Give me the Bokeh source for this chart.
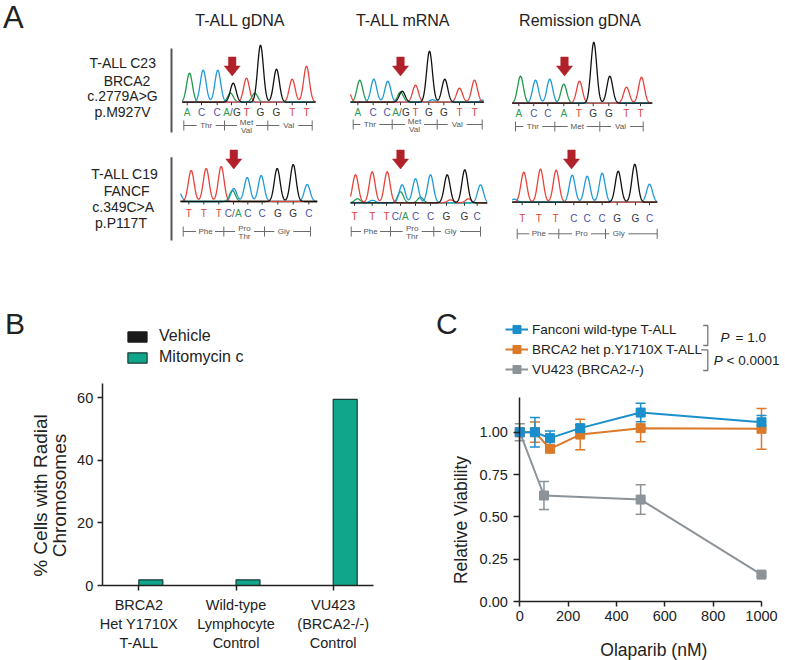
import numpy as np
from bokeh.plotting import figure
from bokeh.layouts import column, row
from bokeh.models import (Range1d, FixedTicker, NumeralTickFormatter, Label, Legend,
                          LegendItem, ColumnDataSource, Whisker, TeeHead)
from bokeh.core.properties import value
from bokeh.embed import file_html
from bokeh.resources import INLINE

FONT = "Liberation Sans"
INK = "#222222"

# ================= Panel A data : Sanger chromatograms =================
col_titles = ["T-ALL gDNA", "T-ALL mRNA", "Remission gDNA"]
row_labels_brca2 = ["T-ALL C23", "BRCA2", "c.2779A>G", "p.M927V"]
row_labels_fancf = ["T-ALL C19", "FANCF", "c.349C>A", "p.P117T"]

seq_brca2_tall = ["A", "C", "C", "A/G", "T", "G", "G", "T", "T"]
seq_brca2_rem = ["A", "C", "C", "A", "T", "G", "G", "T", "T"]
seq_fancf_tall = ["T", "T", "T", "C/A", "C", "C", "G", "G", "C"]
seq_fancf_rem = ["T", "T", "T", "C", "C", "C", "G", "G", "C"]

aa_brca2_tall = [["Thr"], ["Met", "Val"], ["Val"]]
aa_brca2_rem = [["Thr"], ["Met"], ["Val"]]
aa_fancf_tall = [["Phe"], ["Pro", "Thr"], ["Gly"]]
aa_fancf_rem = [["Phe"], ["Pro"], ["Gly"]]

# peak centre, peak height and base of each trace peak
c23_gdna_x = [189, 202.7, 217.3, 232.7, 230, 246, 260, 254.3, 276, 291.7, 306]
c23_gdna_h = [29, 32, 32, 19, 9, 24, 57, 9, 33, 23, 36]
c23_gdna_b = ["A", "C", "C", "G", "A", "T", "G", "A", "G", "T", "T"]

c23_mrna_x = [347, 359.3, 373.3, 387.3, 401.7, 400, 415, 429, 432, 444.3, 459, 474, 482]
c23_mrna_h = [13, 22, 23, 21, 11, 10, 17, 51, 2.5, 23, 14, 22, 2]
c23_mrna_b = ["T", "A", "C", "C", "G", "A", "T", "G", "C", "G", "T", "T", "C"]

c23_rem_x = [520, 535, 549.3, 563.3, 579, 593.3, 609.3, 626, 641]
c23_rem_h = [27, 23, 24, 19, 22, 61, 27, 16, 26]
c23_rem_b = ["A", "C", "C", "A", "T", "G", "G", "T", "T"]

c19_gdna_x = [178, 190.7, 205.7, 220.7, 233.3, 232, 246.7, 260.7, 276.7, 292.7, 306.7]
c19_gdna_h = [10, 31, 33, 35, 13, 11, 24, 26, 33, 37, 17]
c19_gdna_b = ["C", "T", "T", "T", "C", "A", "C", "C", "G", "G", "C"]

c19_mrna_x = [355, 357, 371.7, 372, 386.7, 401.7, 400, 415, 420, 430, 446.7, 450, 464.3, 468, 480]
c19_mrna_h = [28, 4, 31, 2.5, 31, 18, 11, 24, 5.5, 28, 28, 3, 33, 4, 18]
c19_mrna_b = ["T", "A", "T", "C", "T", "C", "A", "C", "A", "C", "G", "T", "G", "T", "C"]

c19_rem_x = [514, 523.3, 540, 555.7, 571.7, 586.7, 601.7, 617.7, 634.3, 649]
c19_rem_h = [3, 30, 33, 32, 27, 26, 29, 31, 38, 18]
c19_rem_b = ["C", "T", "T", "T", "C", "C", "C", "G", "G", "C"]

# ================= Panel B data =================
b_categories = ["BRCA2\nHet Y1710X\nT-ALL", "Wild-type\nLymphocyte\nControl",
                "VU423\n(BRCA2-/-)\nControl"]
b_vehicle = [0, 0, 0]
b_mitomycin = [1.8, 1.8, 59.5]
b_yticks = [0, 20, 40, 60]

# ================= Panel C data =================
c_dose = [0, 62.5, 125, 250, 500, 1000]
c_fanconi = [1.00, 1.00, 0.965, 1.024, 1.116, 1.059]
c_fanconi_err = [0.0, 0.087, 0.042, 0.02, 0.055, 0.04]
c_brca2 = [1.00, 1.00, 0.902, 0.986, 1.024, 1.02]
c_brca2_err = [0.0, 0.06, 0.015, 0.09, 0.08, 0.12]
c_vu_dose = [0, 100, 500, 1000]
c_vu = [1.00, 0.626, 0.602, 0.159]
c_vu_err = [0.05, 0.083, 0.087, 0.01]
c_xticks = [0, 200, 400, 600, 800, 1000]
c_yticks = [0, 0.25, 0.5, 0.75, 1.0]
c_labels = ["Fanconi wild-type T-ALL", "BRCA2 het p.Y1710X T-ALL", "VU423 (BRCA2-/-)"]

# ---------------------------------------------------------------------
BASE_COLOR = {"A": "#1f9a4c", "C": "#1e9ad6", "G": "#111111", "T": "#e5433b"}
LETTER_COLOR = {"A": "#2b9a52", "C": "#4c4fa6", "G": "#333333", "T": "#d8433c"}
SIGMA = 2.9


def txt(p, xs, ys, texts, size, color=INK, align="center", baseline="middle", style="normal"):
    p.text(x=xs, y=ys, text=texts, text_font=value(FONT), text_font_size=value(size),
           text_color=color, text_align=align, text_baseline=baseline,
           text_font_style=style)


pa = figure(width=785, height=296, x_range=Range1d(0, 785), y_range=Range1d(296, 0),
            x_axis_type=None, y_axis_type=None, toolbar_location=None,
            output_backend="svg", min_border=0, outline_line_color=None, title=None)

chroms = [
    dict(peaks=(c23_gdna_x, c23_gdna_h, c23_gdna_b), seq=seq_brca2_tall, aa=aa_brca2_tall,
         x0=181.7, x1=315, base=101.7,
         lx=[186.7, 201, 216.7, 231, 246, 260, 276, 291.7, 306], ly=111.7,
         aa_y=125, aa_x=[183.3, 224, 267.3, 311.7], aa_lx=[205.7, 246, 288.3], arrow=(231.7, 56.5)),
    dict(peaks=(c23_mrna_x, c23_mrna_h, c23_mrna_b), seq=seq_brca2_tall, aa=aa_brca2_tall,
         x0=350, x1=483.3, base=101.7,
         lx=[357.3, 372.7, 386.7, 400, 415, 428.3, 443.3, 459, 474], ly=111.7,
         aa_y=124, aa_x=[352.7, 391.7, 436.7, 481.7], aa_lx=[369.3, 414, 456.7], arrow=(400, 56.5)),
    dict(peaks=(c23_rem_x, c23_rem_h, c23_rem_b), seq=seq_brca2_rem, aa=aa_brca2_rem,
         x0=511.7, x1=651.7, base=102.7,
         lx=[518.3, 533.3, 547.3, 563.3, 578.3, 592.7, 608.3, 625.7, 640], ly=112.7,
         aa_y=126, aa_x=[515, 554.3, 599.3, 642.7], aa_lx=[532.3, 576.7, 620], arrow=(564, 56.5)),
    dict(peaks=(c19_gdna_x, c19_gdna_h, c19_gdna_b), seq=seq_fancf_tall, aa=aa_fancf_tall,
         x0=180, x1=316.7, base=201,
         lx=[188.3, 203.3, 218.3, 233, 247.3, 261.7, 277.3, 292.7, 308.3], ly=213.3,
         aa_y=231, aa_x=[182.7, 223.3, 264, 310], aa_lx=[205, 244, 283.3], arrow=(233.3, 149.5)),
    dict(peaks=(c19_mrna_x, c19_mrna_h, c19_mrna_b), seq=seq_fancf_tall, aa=aa_fancf_tall,
         x0=350, x1=486.7, base=202.3,
         lx=[354, 371.7, 386, 400, 415, 430, 446, 464, 476.7], ly=215.7,
         aa_y=231, aa_x=[350.7, 390, 433.3, 480], aa_lx=[370, 411.7, 450], arrow=(400, 149.5)),
    dict(peaks=(c19_rem_x, c19_rem_h, c19_rem_b), seq=seq_fancf_rem, aa=aa_fancf_rem,
         x0=511.7, x1=656.7, base=201.7,
         lx=[521.7, 538.3, 555, 573.3, 586.7, 601.7, 616.7, 635, 649], ly=217.7,
         aa_y=233.3, aa_x=[516.7, 558.3, 605, 656.7], aa_lx=[538.3, 581, 618.3], arrow=(571, 149.5)),
]

arrow_xs, arrow_ys = [], []
for ch in chroms:
    px, ph, pbase = ch["peaks"]
    xs = np.linspace(ch["x0"], ch["x1"], 500)
    for b in ["A", "C", "T", "G"]:
        amp = np.zeros_like(xs)
        for pcx, h, bb in zip(px, ph, pbase):
            if bb == b:
                amp += h * np.exp(-0.5 * ((xs - pcx) / SIGMA) ** 2)
        pa.line(xs, ch["base"] - amp, line_color=BASE_COLOR[b], line_width=1.3)
    pa.segment(x0=ch["lx"], y0=[ch["base"]] * 9, x1=ch["lx"], y1=[ch["base"] + 3] * 9,
               line_color="#333333", line_width=1)
    sx, sy, st, sc, sa = [], [], [], [], []
    for x, s in zip(ch["lx"], ch["seq"]):
        if "/" in s:
            a, b2 = s.split("/")
            for xx, tt, cc, al in [(x - 1.6, a, LETTER_COLOR[a], "right"), (x, "/", "#555555", "center"),
                                   (x + 1.6, b2, LETTER_COLOR[b2], "left")]:
                sx.append(xx); sy.append(ch["ly"]); st.append(tt); sc.append(cc); sa.append(al)
        else:
            sx.append(x); sy.append(ch["ly"]); st.append(s); sc.append(LETTER_COLOR[s]); sa.append("center")
    pa.text(x=sx, y=sy, text=st, text_color=sc, text_align=sa, text_baseline="middle",
            text_font=value(FONT), text_font_size=value("10px"))
    Y = ch["aa_y"]
    L, C1, C2, R = ch["aa_x"]
    l1, l2, l3 = ch["aa_lx"]
    g = 9.5
    segs = [(L, l1 - g), (l1 + g, C1), (C1, l2 - g), (l2 + g, C2), (C2, l3 - g), (l3 + g, R)]
    pa.segment(x0=[s[0] for s in segs], y0=[Y] * 6, x1=[s[1] for s in segs], y1=[Y] * 6,
               line_color="#6b6b6b", line_width=1)
    pa.segment(x0=ch["aa_x"], y0=[Y - 5] * 4, x1=ch["aa_x"], y1=[Y + 5] * 4,
               line_color="#6b6b6b", line_width=1)
    tx, ty, tt = [], [], []
    for lx, names in zip(ch["aa_lx"], ch["aa"]):
        if len(names) == 1:
            tx.append(lx); ty.append(Y); tt.append(names[0])
        else:
            tx += [lx, lx]; ty += [Y - 3.5, Y + 5]; tt += names
    txt(pa, tx, ty, tt, "8px", color="#555555")
    ax, at = ch["arrow"]
    sw, hw, sl, tl = 7.5, 16, 9, 19
    arrow_xs.append([ax - sw / 2, ax + sw / 2, ax + sw / 2, ax + hw / 2, ax, ax - hw / 2, ax - sw / 2])
    arrow_ys.append([at, at, at + sl, at + sl, at + tl, at + sl, at + sl])

pa.patches(arrow_xs, arrow_ys, fill_color="#b0212a", line_color="#b0212a", line_width=0.5)

txt(pa, [239.7, 402.5, 579.5], [19.5, 19.5, 19.5], col_titles, "16px")
txt(pa, [122.5, 126.5, 122, 122], [62.5, 80.3, 95.5, 111], row_labels_brca2, "14px")
txt(pa, [124.3, 126.2, 122.7, 120.5], [173.3, 190.7, 206.7, 222.7], row_labels_fancf, "14px")
pa.segment(x0=[171, 171], y0=[48, 156.7], x1=[171, 171], y1=[132, 240],
           line_color="#555555", line_width=2)
txt(pa, [2.5], [16.5], ["A"], "31px", align="left")


def style_axes(p):
    p.grid.visible = False
    p.outline_line_color = None
    for ax in p.axis:
        ax.axis_line_color = INK
        ax.axis_line_width = 1.5
        ax.major_tick_line_color = INK
        ax.major_tick_line_width = 1.5
        ax.major_tick_in = 0
        ax.major_tick_out = 5
        ax.minor_tick_line_color = None
        ax.major_label_text_font = FONT
        ax.major_label_text_font_size = "14.5px"
        ax.major_label_text_color = INK


# ================= Panel B (page region x 0..422, y 296..660) =================
def bxp(px):
    return (px - 138.3) / 97.2


def byp(py):
    return (585 - py) / 3.1283


pb = figure(width=422, height=364, x_range=Range1d(bxp(0), bxp(422)),
            y_range=Range1d(byp(660), byp(296)),
            toolbar_location=None, output_backend="svg", title=None, min_border=0)
bx = np.arange(len(b_categories))
rv = pb.vbar(x=bx - 0.1235, top=b_vehicle, width=0.247, fill_color="#1a1a1a", line_color="#1a1a1a")
rm = pb.vbar(x=bx + 0.1235, top=b_mitomycin, width=0.247, fill_color="#0fa68b",
             line_color="#1d3b36", line_width=1.2)
style_axes(pb)
pb.xaxis.fixed_location = 0
pb.xaxis.bounds = (bxp(101.7), bxp(372.7))
pb.xaxis.ticker = FixedTicker(ticks=list(bx))
pb.xaxis.major_label_overrides = {int(i): c for i, c in zip(bx, b_categories)}
pb.xaxis.major_label_standoff = 6
pb.yaxis.fixed_location = bxp(101.7)
pb.yaxis.ticker = FixedTicker(ticks=b_yticks)
pb.yaxis.bounds = (0, 64.5)
pb.yaxis.major_label_standoff = 4
leg_b = Legend(items=[LegendItem(label="Vehicle", renderers=[rv]),
                      LegendItem(label="Mitomycin c", renderers=[rm])],
               location=(125, 294), glyph_width=24, glyph_height=13, label_height=13,
               spacing=3, padding=0, margin=0, label_standoff=10,
               border_line_color=None, background_fill_alpha=0,
               label_text_font=FONT, label_text_font_size="16px", label_text_color=INK)
pb.add_layout(leg_b)
pb.add_layout(Label(x=bxp(4.6), y=byp(322.5), text="B", text_font=FONT, text_font_size="30px",
                    text_baseline="middle", text_color=INK))
for lxp, t in [(40.3, "% Cells with Radial"), (58.5, "Chromosomes")]:
    pb.add_layout(Label(x=bxp(lxp), y=byp(495), text=t, angle=np.pi / 2, text_align="center",
                        text_baseline="middle", text_font=FONT, text_font_size="19px",
                        text_color=INK))

# ================= Panel C (page region x 422..785, y 296..660) =================
def cxp(px):
    return (px - 519.3) / 0.2417


def cyp(py):
    return (601 - py) / 169.3


pc = figure(width=363, height=364, x_range=Range1d(cxp(422), cxp(785)),
            y_range=Range1d(cyp(660), cyp(296)),
            toolbar_location=None, output_backend="svg", title=None, min_border=0)
style_axes(pc)
pc.yaxis.fixed_location = 0
pc.yaxis.bounds = (0, cyp(396.7))
pc.yaxis.ticker = FixedTicker(ticks=c_yticks)
pc.yaxis.formatter = NumeralTickFormatter(format="0.00")
pc.yaxis.major_tick_out = 6
pc.yaxis.major_label_standoff = 6
pc.xaxis.fixed_location = 0
pc.xaxis.bounds = (0, 1000)
pc.xaxis.ticker = FixedTicker(ticks=c_xticks)
pc.xaxis.major_label_standoff = 4

series = [
    (c_vu_dose, c_vu, c_vu_err, "#8c9399", c_labels[2]),
    (c_dose, c_brca2, c_brca2_err, "#dc7a2a", c_labels[1]),
    (c_dose, c_fanconi, c_fanconi_err, "#1b8fcc", c_labels[0]),
]
leg_items = {}
for xs, ys, es, col, lab in series:
    keep = [i for i, e in enumerate(es) if e > 0]
    src = ColumnDataSource(dict(x=[xs[i] for i in keep],
                                lower=[ys[i] - es[i] for i in keep],
                                upper=[ys[i] + es[i] for i in keep]))
    pc.add_layout(Whisker(source=src, base="x", lower="lower", upper="upper", dimension="height",
                          line_color=col, line_width=1.5,
                          upper_head=TeeHead(size=10, line_color=col, line_width=1.5),
                          lower_head=TeeHead(size=10, line_color=col, line_width=1.5)))
    ln = pc.line(xs, ys, line_color=col, line_width=2)
    sc = pc.scatter(xs, ys, marker="square", size=9, fill_color=col, line_color=col)
    leg_items[lab] = [ln, sc]

leg_c = Legend(items=[LegendItem(label=l, renderers=leg_items[l]) for l in c_labels],
               location=(83, 281), glyph_width=23, glyph_height=20, label_height=20,
               spacing=0, padding=0, margin=0, label_standoff=4,
               border_line_color=None, background_fill_alpha=0,
               label_text_font=FONT, label_text_font_size="13.5px", label_text_color=INK)
pc.add_layout(leg_c)

br_col = "#777777"
pc.line([cxp(702.7), cxp(707.3), cxp(707.3), cxp(702.7)], [cyp(325), cyp(325), cyp(345), cyp(345)],
        line_color=br_col, line_width=1.3)
pc.line([cxp(700.7), cxp(707.3), cxp(707.3), cxp(702.7)], [cyp(349.3), cyp(349.3), cyp(370), cyp(370)],
        line_color=br_col, line_width=1.3)
for x, y, t, st in [(720, 336.7, "P", "italic"), (735, 336.7, "= 1.0", "normal"),
                    (713.3, 360, "P", "italic"), (726, 360, "< 0.0001", "normal")]:
    pc.add_layout(Label(x=cxp(x), y=cyp(y), text=t, text_font=FONT, text_font_size="13.5px",
                        text_font_style=st, text_baseline="middle", text_color=INK))
pc.add_layout(Label(x=cxp(435.5), y=cyp(323), text="C", text_font=FONT, text_font_size="30px",
                    text_baseline="middle", text_color=INK))
pc.add_layout(Label(x=cxp(460.5), y=cyp(519.5), text="Relative Viability", angle=np.pi / 2,
                    text_align="center", text_baseline="middle", text_font=FONT,
                    text_font_size="17.5px", text_color=INK))
pc.add_layout(Label(x=cxp(653.3), y=cyp(649.9), text="Olaparib (nM)", text_align="center",
                    text_baseline="middle", text_font=FONT, text_font_size="17.5px",
                    text_color=INK))

layout = column(pa, row(pb, pc))
open("out.html", "w").write(file_html(layout, INLINE))
